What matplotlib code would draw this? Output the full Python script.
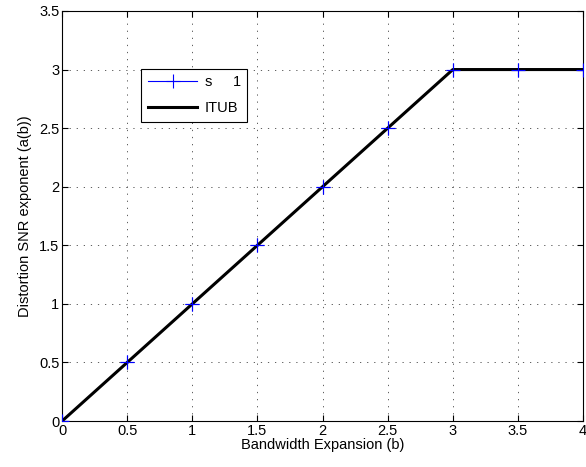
import numpy as np
import matplotlib
matplotlib.use('Agg')
import matplotlib.pyplot as plt

# bandwidth expansion values and distortion SNR exponent
b = [0, 0.5, 1, 1.5, 2, 2.5, 3, 3.5, 4]
a_s1 = [0, 0.5, 1, 1.5, 2, 2.5, 3, 3, 3]
b_itub = [0, 3, 4]
a_itub = [0, 3, 3]

plt.rcParams['font.family'] = ['Liberation Sans', 'DejaVu Sans']
plt.rcParams['font.size'] = 10.5

fig = plt.figure(figsize=(5.86, 4.67), dpi=100)
ax = fig.add_axes([0.106, 0.0985, 0.889, 0.878])

ax.plot(b, a_s1, color='blue', marker='+', markersize=10, markeredgewidth=0.8,
        linewidth=0.8, label='s     1', zorder=2)
ax.plot(b_itub, a_itub, color='black', linewidth=2.2, label='ITUB', zorder=3)
# markers stay visible above the thick line
ax.plot(b, a_s1, color='blue', marker='+', markersize=10, markeredgewidth=0.8,
        linestyle='none', zorder=4)

ax.set_xlim(0, 4)
ax.set_ylim(0, 3.5)
ax.set_xticks(np.arange(0, 4.01, 0.5))
ax.set_yticks(np.arange(0, 3.51, 0.5))
ax.set_xticklabels(['0', '0.5', '1', '1.5', '2', '2.5', '3', '3.5', '4'])
ax.set_yticklabels(['0', '0.5', '1', '1.5', '2', '2.5', '3', '3.5'])
ax.tick_params(direction='in', length=4, width=0.8, top=True, right=True, pad=2)
ax.grid(True, linestyle=(0, (1.5, 7)), color='#444444', linewidth=0.6)
for sp in ax.spines.values():
    sp.set_linewidth(0.8)

ax.set_xlabel('Bandwidth Expansion (b)', labelpad=0)
ax.set_ylabel('Distortion SNR exponent (a(b))', labelpad=5)

leg = ax.legend(loc='upper left', bbox_to_anchor=(0.152, 0.859), fancybox=False,
                edgecolor='black', framealpha=1, handlelength=3.4, borderpad=0.45,
                labelspacing=0.8, handletextpad=0.5, borderaxespad=0)
leg.get_frame().set_linewidth(0.8)

fig.savefig('out.png', dpi=100)
